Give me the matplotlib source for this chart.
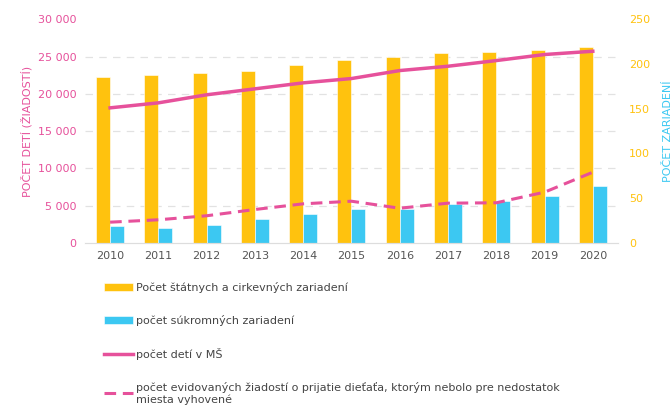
import numpy as np
import matplotlib.pyplot as plt

plt.rcParams['font.family'] = ['DejaVu Sans']

# data
years = ['2010', '2011', '2012', '2013', '2014', '2015', '2016', '2017', '2018', '2019', '2020']
statne = [186, 188, 190, 192, 199, 204, 208, 212, 213, 216, 219]
sukromne = [19, 17, 20, 27, 32, 38, 38, 44, 47, 52, 64]
deti = [18120, 18790, 19870, 20670, 21470, 22050, 23120, 23700, 24460, 25270, 25710]
ziadosti = [2790, 3110, 3650, 4490, 5250, 5600, 4660, 5340, 5390, 6810, 9490]

YELLOW = '#FFC20E'
BLUE = '#3CC8F2'
PINK = '#E6519B'
GREY = '#555555'
FS = 8

fig = plt.figure(figsize=(6.72, 4.07), dpi=100)
ax = fig.add_axes([0.1265, 0.403, 0.793, 0.5497])
ax2 = ax.twinx()

x = np.arange(len(years))
w = 0.29

# bars on the bottom axes (right scale)
b1 = ax.bar(x - w / 2, statne, w, color=YELLOW, edgecolor='white', linewidth=0.4,
            label='Počet štátnych a cirkevných zariadení', zorder=2)
b2 = ax.bar(x + w / 2, sukromne, w, color=BLUE, edgecolor='white', linewidth=0.4,
            label='počet súkromných zariadení', zorder=2)
ax.set_ylim(0, 250)
ax.set_xlim(-0.52, len(years) - 0.48)
ax.yaxis.tick_right()
ax.yaxis.set_label_position('right')
ax.set_yticks(np.arange(0, 251, 50))
ax.set_yticks(np.linspace(0, 250, 7), minor=True)
ax.grid(which='minor', axis='y', color='#e2e2e2', linestyle=(0, (6, 5)), linewidth=0.9, zorder=0)
ax.set_axisbelow(True)
ax.tick_params(axis='y', which='both', length=0, colors=YELLOW, labelsize=FS, pad=8)
ax.tick_params(axis='x', length=0, colors=GREY, labelsize=FS, pad=6)
ax.set_xticks(x)
ax.set_xticklabels(years)
ax.set_ylabel('POČET ZARIADENÍ', color=BLUE, fontsize=FS, labelpad=9)

# lines on the twin axes (left scale)
ax2.yaxis.tick_left()
ax2.yaxis.set_label_position('left')
l1, = ax2.plot(x, deti, color=PINK, linewidth=2.5, label='počet detí v MŠ', zorder=3)
l2, = ax2.plot(x, ziadosti, color=PINK, linewidth=2.2, linestyle=(0, (3.8, 2.2)),
               label='počet evidovaných žiadostí o prijatie dieťaťa, ktorým nebolo pre nedostatok\nmiesta vyhovené',
               zorder=3)
ax2.set_ylim(0, 30000)
ax2.set_yticks(np.arange(0, 30001, 5000))
ax2.set_yticklabels([f'{v:,}'.replace(',', ' ') for v in range(0, 30001, 5000)])
ax2.tick_params(axis='y', length=0, colors=PINK, labelsize=FS, pad=6)
ax2.set_ylabel('POČET DETÍ (ŽIADOSTÍ)', color=PINK, fontsize=FS, labelpad=4)

for a in (ax, ax2):
    for s in ('top', 'left', 'right'):
        a.spines[s].set_visible(False)
    a.spines['bottom'].set_color('#dddddd')

fig.legend(handles=[b1, b2, l1, l2], loc='upper left', bbox_to_anchor=(0.155, 0.308),
           frameon=False, fontsize=FS, labelcolor='#444444', handlelength=2.6,
           handletextpad=0.3, labelspacing=1.98, borderpad=0, borderaxespad=0)

fig.savefig('out.png', dpi=100)
